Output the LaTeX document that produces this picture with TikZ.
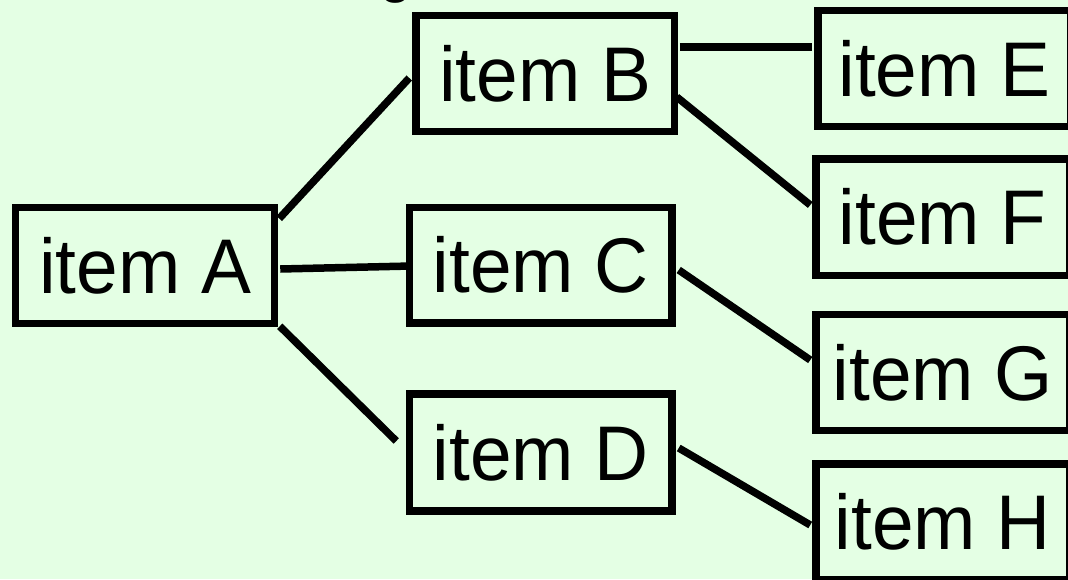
\documentclass[tikz,border=0pt]{standalone}
\usepackage{fontspec}
\setmainfont[FakeStretch=0.965]{Liberation Sans}
\usetikzlibrary{calc}
\definecolor{bgcol}{RGB}{228,255,228}
\tikzset{
  itembox/.style={draw=black, line width=7.5pt, rectangle, inner sep=0pt,
    font=\fontsize{77.5}{90}\selectfont, minimum height=116pt},
  link/.style={draw=black, line width=7.5pt},
}
\begin{document}
\begin{tikzpicture}[x=1pt,y=-1pt]
\useasboundingbox (0,0) rectangle (1068,579);
\clip (0,0) rectangle (1068,579);
\fill[bgcol] (0,0) rectangle (1068,579);
\node[font=\fontsize{62}{70}\selectfont, anchor=base] (title) at (396,-10) {g};
\node[itembox, minimum width=259pt] (A) at (145,265.5) {item A};
\node[itembox, minimum width=258.5pt] (B) at (545.25,73.5) {item B};
\node[itembox, minimum width=262.5pt, minimum height=115.5pt] (C) at (540.75,265.25) {item C};
\node[itembox, minimum width=262.5pt, minimum height=117pt] (D) at (540.75,452.5) {item D};
\node[itembox, minimum width=253pt] (E) at (944.5,68.5) {item E};
\node[itembox, minimum width=253.5pt, minimum height=116.5pt] (F) at (942.75,217.25) {item F};
\node[itembox, minimum width=253.5pt] (G) at (942.75,372.5) {item G};
\node[itembox, minimum width=253.5pt] (H) at (942.75,522) {item H};
\draw[link] ($(A.east)+(1,-47)$) -- ($(B.west)+(-3,4.5)$);
\draw[link] ($(A.east)+(2,3.5)$) -- ($(C.west)+(5.5,0.75)$);
\draw[link] ($(A.south east)+(1.5,-1)$) -- ($(D.west)+(-9.5,-11.5)$);
\draw[link] ($(B.east)+(1.5,-26.5)$) -- ($(E.west)+(-2,-21.5)$);
\draw[link] ($(B.east)+(-1.5,23.5)$) -- ($(F.west)+(-2,-12.25)$);
\draw[link] ($(C.east)+(3,4.75)$) -- ($(G.west)+(-2,-12.5)$);
\draw[link] ($(D.east)+(3,-4.5)$) -- ($(H.west)+(-2,3)$);
\end{tikzpicture}
\end{document}
